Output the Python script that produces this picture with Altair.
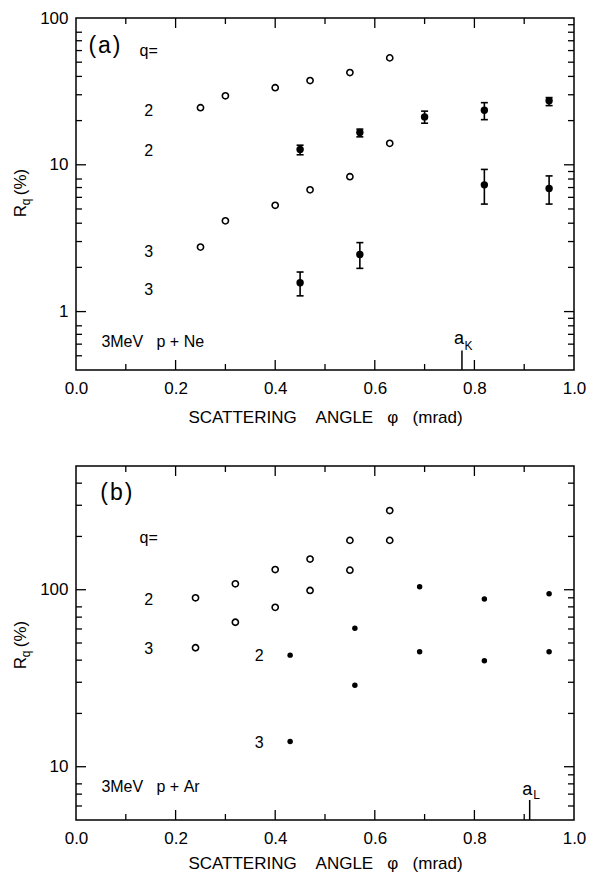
import altair as alt
import pandas as pd

FONT = "Liberation Sans"
W = 498

# ---------------- panel (a): 3MeV p + Ne ----------------
a_open_x = [0.25, 0.30, 0.40, 0.47, 0.55, 0.63]
a_open_q2 = [24.5, 29.5, 33.5, 37.5, 42.5, 53.5]
a_open_q3 = [2.75, 4.15, 5.3, 6.75, 8.3, 14.0]
a_fill_x_q2 = [0.45, 0.57, 0.70, 0.82, 0.95]
a_fill_q2 = [12.7, 16.6, 21.2, 23.5, 27.3]
a_fill_q2_lo = [11.7, 15.5, 19.2, 20.3, 25.3]
a_fill_q2_hi = [13.6, 17.5, 23.2, 26.5, 28.7]
a_fill_x_q3 = [0.45, 0.57, 0.82, 0.95]
a_fill_q3 = [1.57, 2.45, 7.3, 6.9]
a_fill_q3_lo = [1.28, 1.97, 5.4, 5.4]
a_fill_q3_hi = [1.86, 2.95, 9.3, 8.4]
a_ydomain = [0.4, 100]
a_yticks = [1, 10, 100]
a_minor_left = [0.5, 0.6, 0.7, 0.8, 2, 3, 4, 5, 6, 7, 8, 20, 30, 40, 50, 60, 70, 80]
a_minor_right = [0.5, 0.6, 0.7, 0.8, 0.9, 2, 3, 4, 5, 6, 7, 8, 9, 20, 30, 40, 50, 60, 70, 80, 90]
a_major_inner = [1, 10]
a_lbl_text = ["q=", "2", "2", "3", "3"]
a_lbl_x = [0.146, 0.146, 0.146, 0.146, 0.146]
a_lbl_y = [60, 23.3, 12.4, 2.56, 1.41]
a_tag = "(\u200aa\u200a)"
a_tag_xy = (0.057, 64.5)
a_system = "3MeV\u00a0\u00a0\u00a0p\u00a0+\u00a0Ne"
a_system_xy = (0.051, 0.625)
a_edge_x = 0.775
a_edge_top = 0.543
a_edge_a = (0.769, 0.597)
a_edge_sub = ("K", 0.788, 0.551)

# ---------------- panel (b): 3MeV p + Ar ----------------
b_open_x = [0.24, 0.32, 0.40, 0.47, 0.55, 0.63]
b_open_q2 = [90, 108, 130, 149, 190, 280]
b_open_q3 = [47, 65.5, 79.5, 99, 129, 190]
b_fill_x = [0.43, 0.56, 0.69, 0.82, 0.95]
b_fill_q2 = [42.7, 60.5, 104, 88.5, 95]
b_fill_q3 = [13.9, 28.9, 44.6, 39.7, 44.6]
b_ydomain = [5, 500]
b_yticks = [10, 100]
b_minor_left = [6, 7, 8, 20, 30, 40, 50, 60, 70, 80, 200, 300, 400]
b_minor_right = [6, 7, 8, 9, 20, 30, 40, 50, 60, 70, 80, 90, 200, 300, 400]
b_major_inner = [10, 100]
b_lbl_text = ["q=", "2", "3", "2", "3"]
b_lbl_x = [0.146, 0.146, 0.146, 0.368, 0.368]
b_lbl_y = [195, 87.8, 46.2, 42.4, 13.7]
b_tag = "(\u200ab\u200a)"
b_tag_xy = (0.081, 351)
b_system = "3MeV\u00a0\u00a0\u00a0p\u00a0+\u00a0Ar"
b_system_xy = (0.051, 7.7)
b_edge_x = 0.911
b_edge_top = 6.49
b_edge_a = (0.906, 6.93)
b_edge_sub = ("L", 0.925, 6.58)

x_major_inner = [0.2, 0.4, 0.6, 0.8]
x_minor = [0.1, 0.3, 0.5, 0.7, 0.9]
x_labels = [0.0, 0.2, 0.4, 0.6, 0.8, 1.0]
X_TITLE = "SCATTERING\u00a0\u00a0\u00a0\u00a0ANGLE\u00a0\u00a0\u00a0\u03c6\u00a0\u00a0\u00a0(mrad)"


def panel(H, ydomain, yticks, open_x, open_q2, open_q3, fill_df, err_df,
          fill_size, minor_left, minor_right, major_inner, lbl_text, lbl_x, lbl_y,
          tag, tag_xy, system, system_xy, edge_x, edge_top, edge_a, edge_sub,
          title_pad, ytitle_c):
    xs = alt.Scale(domain=[0, 1], nice=False, zero=False)
    ys = alt.Scale(type="log", domain=ydomain, nice=False)
    xaxis = alt.Axis(values=x_labels, format=".1f", title=X_TITLE, labelFlush=False,
                     ticks=False, tickSize=0, domain=False, grid=False,
                     labelPadding=10, titlePadding=title_pad,
                     labelFont=FONT, labelFontSize=17, labelColor="black",
                     titleFont=FONT, titleFontSize=17, titleFontWeight="normal",
                     titleColor="black")
    yaxis = alt.Axis(values=yticks, format="~g", title="", ticks=False, tickSize=0,
                     domain=False, grid=False, labelPadding=8,
                     labelFont=FONT, labelFontSize=17, labelColor="black")

    def X(field):
        return alt.X(field, scale=xs, axis=xaxis)

    def Y(field):
        return alt.Y(field, scale=ys, axis=yaxis)

    open_df = pd.DataFrame({"x": open_x + open_x, "y": open_q2 + open_q3})
    layers = []
    layers.append(alt.Chart(open_df).mark_point(
        shape="circle", filled=False, color="black", strokeWidth=1.6, size=38, opacity=1
    ).encode(x=X("x:Q"), y=Y("y:Q")))

    if err_df is not None:
        layers.append(alt.Chart(err_df).mark_rule(color="black", strokeWidth=1.6).encode(
            x=X("x:Q"), y=Y("lo:Q"), y2="hi:Q"))
        for col in ["lo", "hi"]:
            layers.append(alt.Chart(err_df).mark_tick(
                orient="horizontal", color="black", thickness=1.6, size=7, opacity=1
            ).encode(x=X("x:Q"), y=Y(f"{col}:Q")))

    layers.append(alt.Chart(fill_df).mark_circle(color="black", size=fill_size, opacity=1).encode(
        x=X("x:Q"), y=Y("y:Q")))

    # inward ticks
    xmaj = pd.DataFrame({"x": x_major_inner})
    xmin = pd.DataFrame({"x": x_minor})
    for df, ln in [(xmaj, 10), (xmin, 6)]:
        layers.append(alt.Chart(df).mark_rule(color="black", strokeWidth=1.3).encode(
            x=X("x:Q"), y=alt.value(H), y2=alt.value(H - ln)))
        layers.append(alt.Chart(df).mark_rule(color="black", strokeWidth=1.3).encode(
            x=X("x:Q"), y=alt.value(0), y2=alt.value(ln)))
    ymaj = pd.DataFrame({"y": major_inner})
    for df, ln, side in [(ymaj, 10, "L"), (ymaj, 10, "R"),
                         (pd.DataFrame({"y": minor_left}), 6, "L"),
                         (pd.DataFrame({"y": minor_right}), 6, "R")]:
        x0, x1 = (0, ln) if side == "L" else (W, W - ln)
        layers.append(alt.Chart(df).mark_rule(color="black", strokeWidth=1.3).encode(
            y=Y("y:Q"), x=alt.value(x0), x2=alt.value(x1)))

    # labels
    lbl_df = pd.DataFrame({"x": lbl_x, "y": lbl_y, "t": lbl_text})
    layers.append(alt.Chart(lbl_df).mark_text(font=FONT, fontSize=16, color="black",
                                              align="center", baseline="middle").encode(
        x=X("x:Q"), y=Y("y:Q"), text="t:N"))
    tag_df = pd.DataFrame({"x": [tag_xy[0]], "y": [tag_xy[1]], "t": [tag]})
    layers.append(alt.Chart(tag_df).mark_text(font=FONT, fontSize=23, color="black",
                                              align="center", baseline="middle").encode(
        x=X("x:Q"), y=Y("y:Q"), text="t:N"))
    sys_df = pd.DataFrame({"x": [system_xy[0]], "y": [system_xy[1]], "t": [system]})
    layers.append(alt.Chart(sys_df).mark_text(font=FONT, fontSize=16, color="black",
                                              align="left", baseline="middle").encode(
        x=X("x:Q"), y=Y("y:Q"), text="t:N"))

    # absorption edge marker
    edge_df = pd.DataFrame({"x": [edge_x], "y": [edge_top], "y2": [ydomain[0]]})
    layers.append(alt.Chart(edge_df).mark_rule(color="black", strokeWidth=1.5).encode(
        x=X("x:Q"), y=Y("y:Q"), y2="y2:Q"))
    ea_df = pd.DataFrame({"x": [edge_a[0]], "y": [edge_a[1]], "t": ["a"]})
    layers.append(alt.Chart(ea_df).mark_text(font=FONT, fontSize=18, color="black",
                                             align="center", baseline="alphabetic").encode(
        x=X("x:Q"), y=Y("y:Q"), text="t:N"))
    es_df = pd.DataFrame({"x": [edge_sub[1]], "y": [edge_sub[2]], "t": [edge_sub[0]]})
    layers.append(alt.Chart(es_df).mark_text(font=FONT, fontSize=12, color="black",
                                             align="center", baseline="alphabetic").encode(
        x=X("x:Q"), y=Y("y:Q"), text="t:N"))

    # y title R_q (%) rotated
    for t, dx, dy, fs in [("R", -55, 17, 17), ("q", -50, 8, 12), ("(%)", -55, -12, 17)]:
        layers.append(alt.Chart(pd.DataFrame({"t": [t]})).mark_text(
            font=FONT, fontSize=fs, color="black", align="center", baseline="middle", angle=270
        ).encode(x=alt.value(dx), y=alt.value(ytitle_c + dy), text="t:N"))

    return alt.layer(*layers).properties(width=W, height=H)


a_fill_df = pd.DataFrame({"x": a_fill_x_q2 + a_fill_x_q3, "y": a_fill_q2 + a_fill_q3})
a_err_df = pd.DataFrame({"x": a_fill_x_q2 + a_fill_x_q3,
                         "lo": a_fill_q2_lo + a_fill_q3_lo,
                         "hi": a_fill_q2_hi + a_fill_q3_hi})
b_fill_df = pd.DataFrame({"x": b_fill_x + b_fill_x, "y": b_fill_q2 + b_fill_q3})

HA, HB = 352, 354
pa = panel(HA, a_ydomain, a_yticks, a_open_x, a_open_q2, a_open_q3, a_fill_df, a_err_df, 55,
           a_minor_left, a_minor_right, a_major_inner, a_lbl_text, a_lbl_x, a_lbl_y,
           a_tag, a_tag_xy, a_system, a_system_xy, a_edge_x, a_edge_top, a_edge_a, a_edge_sub,
           13, 176)
pb = panel(HB, b_ydomain, b_yticks, b_open_x, b_open_q2, b_open_q3, b_fill_df, None, 30,
           b_minor_left, b_minor_right, b_major_inner, b_lbl_text, b_lbl_x, b_lbl_y,
           b_tag, b_tag_xy, b_system, b_system_xy, b_edge_x, b_edge_top, b_edge_a, b_edge_sub,
           9, 180)

chart = alt.vconcat(pa, pb, spacing=38).properties(
    padding={"left": 3, "top": 0, "right": 0, "bottom": 0},
    background="white",
).configure_view(stroke="black", strokeWidth=1.5)

chart.save("out.html", embed_options={"renderer": "svg", "actions": False})
